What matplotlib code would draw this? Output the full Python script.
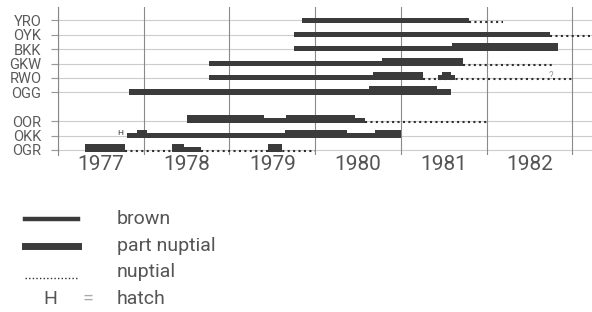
import matplotlib.pyplot as plt
from matplotlib.lines import Line2D

plt.rcParams['font.family'] = ['Roboto', 'DejaVu Sans']

# birds, top to bottom, and their row position (gap between OGG and OOR)
birds = ['YRO', 'OYK', 'BKK', 'GKW', 'RWO', 'OGG', 'OOR', 'OKK', 'OGR']
rows = [9, 8, 7, 6, 5, 4, 2, 1, 0]

# plumage periods per bird: (start, end, kind)
yro = [(1979.85, 1981.80, 'brown'), (1981.80, 1982.19, 'nuptial')]
oyk = [(1979.75, 1982.74, 'brown'), (1982.74, 1983.25, 'nuptial')]
bkk = [(1979.75, 1981.60, 'brown'), (1981.60, 1982.83, 'part')]
gkw = [(1978.76, 1980.78, 'brown'), (1980.78, 1981.73, 'part'),
       (1981.73, 1982.76, 'nuptial')]
rwo = [(1978.76, 1980.68, 'brown'), (1980.68, 1981.26, 'part'),
       (1981.26, 1983.0, 'nuptial'), (1981.43, 1981.63, 'brown'),
       (1981.48, 1981.58, 'part')]
ogg = [(1977.83, 1980.63, 'brown'), (1980.63, 1981.42, 'part'),
       (1981.42, 1981.59, 'brown')]
oor = [(1978.51, 1979.40, 'part'), (1979.40, 1979.66, 'brown'),
       (1979.66, 1980.46, 'part'), (1980.46, 1980.58, 'brown'),
       (1980.58, 1982.0, 'nuptial')]
okk = [(1977.80, 1979.65, 'brown'), (1977.92, 1978.04, 'part'),
       (1979.65, 1980.37, 'part'), (1980.37, 1980.70, 'brown'),
       (1980.70, 1981.0, 'part')]
ogr = [(1977.31, 1977.78, 'part'), (1977.78, 1978.33, 'nuptial'),
       (1978.33, 1978.47, 'part'), (1978.47, 1978.67, 'brown'),
       (1978.67, 1980.0, 'nuptial'), (1979.45, 1979.61, 'part')]
periods = [yro, oyk, bkk, gkw, rwo, ogg, oor, okk, ogr]

years = [1977, 1978, 1979, 1980, 1981, 1982]
hatch_okk = 1977.73
unsure_rwo = 1982.75

dark = '#3b3b3b'
txt = '#555555'

fig = plt.figure(figsize=(5.92, 3.12), dpi=100)
ax = fig.add_axes([58 / 592, 1 - 155 / 312, 1 - 58 / 592, 148 / 312])
ax.set_xlim(1977, 1983.23)
ax.set_ylim(-0.35, 9.93)

# grid
ax.set_yticks(rows)
ax.set_yticklabels(birds, fontsize=10.5, color='#5a5a5a')
ax.tick_params(axis='y', length=5, color='#999999', pad=7)
for r in rows:
    ax.plot([1976.93, 1983.23], [r, r], color='#cccccc', lw=0.8,
            clip_on=False, zorder=1)
for yr in years + [1983]:
    ax.axvline(yr, color='#8a8a8a', lw=0.8, zorder=1)
ax.set_xticks([y + 0.5 for y in years])
ax.set_xticklabels([str(y) for y in years], fontsize=15, color=txt)
ax.tick_params(axis='x', length=0, pad=0)
for s in ['top', 'right', 'bottom']:
    ax.spines[s].set_visible(False)
ax.spines['left'].set_color('#888888')
ax.spines['left'].set_linewidth(0.8)

# bars
for r, segs in zip(rows, periods):
    for start, end, kind in segs:
        if kind == 'brown':
            ax.barh(r - 0.16, end - start, left=start, height=0.36,
                    align='edge', color=dark, zorder=3)
        elif kind == 'part':
            ax.barh(r - 0.16, end - start, left=start, height=0.58,
                    align='edge', color=dark, zorder=4)
        else:
            ax.plot([start, end], [r - 0.08, r - 0.08], color='#2e2e2e',
                    lw=1.5, ls=(0, (1, 1.6)), zorder=2, clip_on=False)

ax.text(hatch_okk, 1.2, 'H', fontsize=6, color='#333333', ha='center', va='center')
ax.text(unsure_rwo, 5.15, '?', fontsize=7, color='#9a9a9a', ha='center', va='center')

# legend
W, H = 592, 312
def fy(p):
    return 1 - p / H

fig.add_artist(Line2D([25 / W, 78 / W], [fy(219)] * 2, color=dark, lw=3.2))
fig.add_artist(Line2D([25 / W, 78 / W], [fy(246)] * 2, color=dark, lw=5))
fig.add_artist(Line2D([25 / W, 78 / W], [fy(278)] * 2, color='#2e2e2e',
                      lw=1.0, ls=(0, (1, 1.6))))
fig.text(117 / W, fy(219), 'brown', fontsize=14, color=txt, va='center')
fig.text(117 / W, fy(246), 'part nuptial', fontsize=14, color=txt, va='center')
fig.text(117 / W, fy(272), 'nuptial', fontsize=14, color=txt, va='center')
fig.text(50 / W, fy(299), 'H', fontsize=14, color=txt, va='center', ha='center')
fig.text(88 / W, fy(299), '=', fontsize=14, color='#aaaaaa', va='center', ha='center')
fig.text(117 / W, fy(299), 'hatch', fontsize=14, color=txt, va='center')

fig.savefig('out.png', dpi=100)
